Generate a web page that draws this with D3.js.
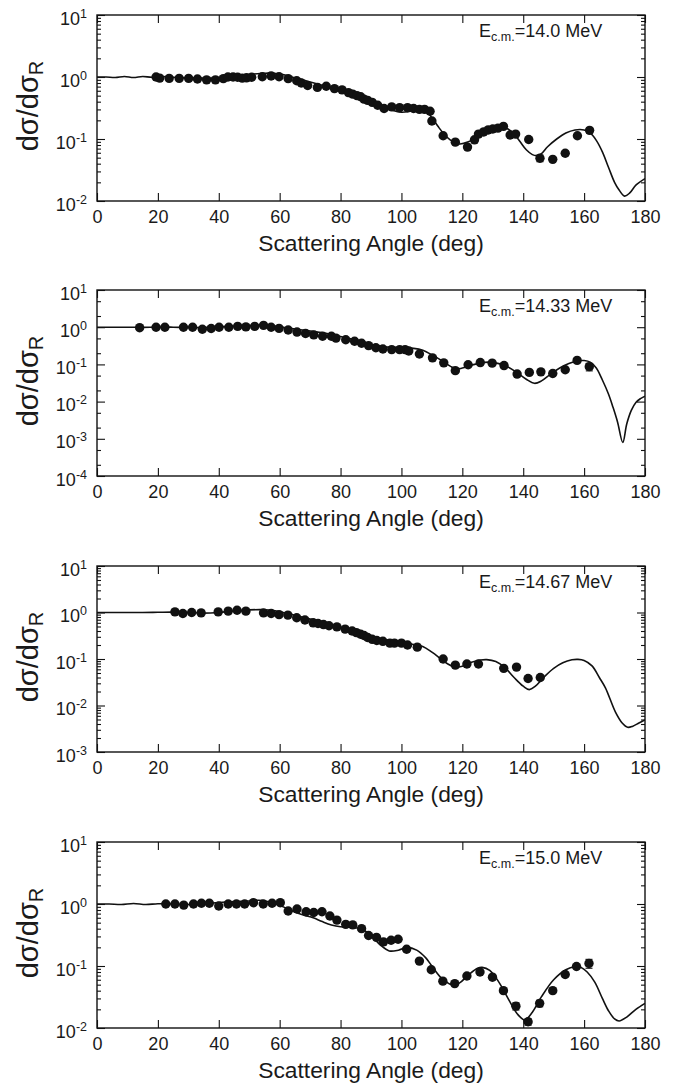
<!DOCTYPE html>
<html>
<head>
<meta charset="utf-8">
<script src="https://cdn.jsdelivr.net/npm/d3@7"></script>
<style>
  body { margin: 0; background: #fff; }
  svg { display: block; font-family: "Liberation Sans", Arial, sans-serif; }
  .tick line { stroke: #111; stroke-width: 1.1; }
  .tick text { fill: #1a1a1a; }
</style>
</head>
<body>
<div id="chart"></div>
<script>
// angle ticks (deg)
var angleTicks = d3.range(0, 181, 20);

// panel energies and log-axis ranges
var energies = ["14.0", "14.33", "14.67", "15.0"];
var yMinExp = [-2, -4, -3, -2];
var yMaxExp = [1, 1, 1, 1];
var minorSteps = [[2, 3, 4, 5, 6, 7, 8, 9], [2, 5], [2, 3, 4, 5, 6, 7, 8, 9], [2, 3, 4, 5, 6, 7, 8, 9]];

// calculated curves [angle, ratio]
var curve14_0 = [[0,1.0],[3,1.0],[6,0.98],[9,1.02],[12,0.98],[15,1.02],[18,0.99],[21,1.02],[25,0.99],[30,0.97],[35,0.96],[40,0.98],[45,1.04],[50,1.1],[55,1.15],[58,1.15],[61,1.1],[64,1.0],[67,0.92],[70,0.83],[75,0.71],[80,0.6],[85,0.5],[90,0.41],[94,0.33],[97,0.29],[100,0.27],[103,0.28],[106,0.3],[108,0.29],[110,0.22],[112,0.16],[114,0.12],[116,0.097],[119,0.083],[122,0.09],[125,0.11],[128,0.135],[131,0.152],[133,0.158],[135,0.145],[137,0.12],[139,0.09],[141,0.067],[143,0.056],[144.5,0.054],[146,0.058],[148,0.075],[151,0.1],[154,0.125],[157,0.14],[160,0.14],[162,0.125],[164,0.095],[166,0.062],[168,0.035],[170,0.02],[171.5,0.015],[173.3,0.012],[175,0.0135],[177,0.018],[180,0.023]];
var curve14_33 = [[0,1.0],[5,1.0],[10,1.0],[15,0.99],[20,1.01],[25,1.0],[30,0.98],[35,0.98],[40,1.02],[45,1.06],[50,1.1],[54,1.12],[57,1.1],[60,1.02],[64,0.92],[68,0.83],[72,0.75],[76,0.67],[80,0.56],[84,0.47],[88,0.38],[92,0.32],[96,0.29],[100,0.28],[104,0.27],[107,0.24],[110,0.18],[113,0.13],[116,0.09],[118,0.075],[120,0.08],[123,0.095],[126,0.11],[129,0.115],[132,0.105],[135,0.085],[138,0.06],[141,0.04],[143.7,0.031],[146,0.036],[149,0.055],[152,0.08],[155,0.105],[158,0.125],[160,0.127],[162,0.115],[164,0.08],[166,0.038],[168,0.016],[169.5,0.007],[171,0.0028],[172.7,0.0008],[174,0.0025],[175.5,0.0058],[177,0.0095],[178.5,0.012],[180,0.014]];
var curve14_67 = [[0,1.0],[5,1.0],[10,1.0],[15,1.0],[20,1.01],[25,1.02],[30,1.0],[35,0.97],[40,1.0],[45,1.08],[50,1.14],[55,1.15],[58,1.1],[61,1.0],[65,0.87],[70,0.72],[75,0.59],[80,0.48],[85,0.39],[90,0.31],[95,0.26],[100,0.225],[104,0.205],[107,0.185],[110,0.14],[113,0.1],[115,0.08],[117.5,0.067],[120,0.07],[123,0.085],[126,0.095],[128,0.097],[131,0.088],[134,0.065],[137,0.04],[140,0.026],[142,0.022],[144,0.026],[147,0.042],[150,0.063],[153,0.083],[156,0.096],[158,0.098],[160,0.093],[162.6,0.071],[165,0.04],[167,0.024],[170.3,0.0072],[172.5,0.0042],[174.3,0.0034],[176,0.0036],[178,0.0042],[180,0.0049]];
var curve15_0 = [[0,1.0],[4,1.0],[8,0.98],[12,1.02],[16,0.98],[20,1.01],[25,1.0],[30,0.98],[35,1.0],[40,1.06],[45,1.1],[50,1.12],[53,1.15],[56,1.1],[59,1.0],[62,0.86],[65,0.74],[68,0.66],[71,0.6],[74,0.52],[77,0.46],[80,0.43],[84,0.42],[87,0.39],[90,0.31],[93,0.22],[96,0.175],[99,0.18],[102,0.2],[105,0.18],[108,0.135],[110,0.1],[113,0.065],[116.5,0.05],[119,0.053],[122,0.072],[125,0.092],[126.5,0.095],[129,0.085],[132,0.055],[135,0.03],[138,0.017],[140.5,0.0135],[143,0.018],[146,0.032],[150,0.06],[154,0.087],[157,0.097],[159,0.095],[161,0.08],[163.5,0.055],[166,0.03],[168,0.019],[170,0.014],[171.5,0.013],[174,0.015],[177,0.02],[180,0.025]];

// measured points [angle, ratio, error]
var data14_0 = [[19.4,1.0],[20.6,0.96],[23.7,0.95],[27,0.95],[30.1,0.95],[33,0.93],[36,0.9],[38.9,0.9],[41.5,0.94],[43,1.0],[44.7,1.0],[46.2,0.99],[47.7,0.96],[49.1,0.97],[50.8,0.99],[54.3,1.01],[57.2,1.04],[59.8,1.01],[62.8,0.94],[65.6,0.87],[67.1,0.8],[69.2,0.73],[72.4,0.68],[75.3,0.71],[78,0.65],[80.5,0.62],[82.6,0.56],[84,0.53],[85.4,0.5],[86.6,0.48],[87.7,0.44],[88.9,0.42],[90.4,0.39],[92.2,0.35],[94.3,0.31],[96.8,0.33],[99.4,0.32],[102,0.32],[104,0.31],[105.9,0.3],[107.6,0.3],[109.4,0.28],[110,0.195],[113.7,0.113],[117.7,0.089],[121.7,0.074],[124,0.097],[125.3,0.12],[127,0.13],[128.5,0.14],[130,0.145],[131.7,0.15],[133.5,0.16],[135.7,0.116],[137.5,0.12],[141.8,0.098],[145.5,0.049,0.006],[149.7,0.047],[153.8,0.059,0.005],[157.8,0.113],[161.8,0.138,0.013]];
var data14_33 = [[14,0.97],[19.4,1.0],[22.3,1.0],[28.4,1.0],[31.4,1.0],[34.6,0.88],[37.5,0.92],[40.1,1.0],[43.3,1.0],[46.2,1.05],[48.9,1.02],[51.8,1.05],[54.7,1.12],[57.2,1.0],[59.8,0.93],[62.8,0.84],[65.7,0.74],[68.5,0.68],[71.2,0.62],[74.1,0.57],[77,0.57],[78.5,0.51],[81.7,0.46],[84.6,0.42],[86.9,0.37],[89.2,0.32],[91.6,0.28],[93.9,0.26],[96.8,0.25],[99.4,0.25],[101.2,0.25],[102.4,0.23],[105.9,0.19],[110.2,0.15],[113.9,0.11],[117.7,0.068],[121.9,0.098],[125.9,0.112],[129.8,0.108],[133.7,0.093],[138,0.055],[142,0.061],[145.8,0.063],[149.7,0.057],[153.8,0.072],[157.7,0.128],[161.7,0.087,0.02]];
var data14_67 = [[25.6,1.03],[28.2,0.95],[31.1,1.0],[34.2,0.98],[39.8,1.03],[43.1,1.07],[46,1.12],[48.9,1.07],[54.7,0.98],[57.2,0.95],[59.8,0.9],[62.7,0.88],[65.6,0.77],[68.3,0.69],[71,0.6],[72.6,0.58],[74.4,0.55],[76.2,0.52],[78.8,0.49],[81.5,0.44],[83.8,0.4],[85.2,0.37],[86.6,0.34],[87.7,0.32],[88.9,0.29],[90.4,0.265],[91.9,0.25],[93.9,0.24],[96.2,0.22],[97.7,0.22],[100,0.22],[102,0.2],[105.2,0.18],[113.7,0.1],[117.7,0.074],[121.5,0.078],[125.3,0.078],[133.6,0.063],[137.8,0.067],[141.6,0.038],[145.6,0.04]];
var data15_0 = [[22.6,1.0],[25.6,1.0],[28.5,0.96],[31.7,1.0],[34.3,1.03],[36.9,1.03],[40,0.93],[43.1,1.0],[45.8,1.0],[48.5,1.0],[51.4,1.05],[54.6,1.0],[57.5,1.03],[60.2,1.05],[62.8,0.77],[65.7,0.83],[68.7,0.75],[71.2,0.73],[73.9,0.75],[76.5,0.64],[78.8,0.55],[81.7,0.47],[84,0.46],[86.9,0.4],[89.2,0.31],[91.8,0.29],[94.1,0.245],[96.6,0.26],[98.9,0.27],[101.7,0.186],[105.9,0.12],[109.8,0.087],[113.6,0.057],[117.5,0.052],[121.5,0.069],[125.8,0.08],[129.9,0.066],[133.5,0.04],[137.6,0.0225,0.003],[141.6,0.0126,0.0015],[145.4,0.025,0.003],[149.7,0.04],[153.8,0.073],[157.5,0.098],[161.6,0.11,0.018]];

var curves = [curve14_0, curve14_33, curve14_67, curve15_0];
var points = [data14_0, data14_33, data14_67, data15_0];

var width = 678, height = 1091;
var left = 97, plotW = 548, plotH = 186;
var panelTop = [15, 290, 566, 842];
var ink = "#111";

var svg = d3.select("#chart").append("svg")
    .attr("width", width)
    .attr("height", height);

var x = d3.scaleLinear().domain([0, 180]).range([left, left + plotW]);

energies.forEach(function (energy, i) {
    var top = panelTop[i];
    var y = d3.scaleLog()
        .domain([Math.pow(10, yMinExp[i]), Math.pow(10, yMaxExp[i])])
        .range([top + plotH, top]);
    var majors = d3.range(yMinExp[i], yMaxExp[i] + 1).map(function (e) { return Math.pow(10, e); });
    var minors = [];
    d3.range(yMinExp[i], yMaxExp[i]).forEach(function (e) {
        minorSteps[i].forEach(function (m) { minors.push(m * Math.pow(10, e)); });
    });

    var g = svg.append("g");

    // clip for curve
    g.append("clipPath").attr("id", "clip" + i)
        .append("rect").attr("x", left).attr("y", top).attr("width", plotW).attr("height", plotH);

    // x axes (bottom labelled, top ticks only)
    g.append("g")
        .attr("transform", "translate(0," + (top + plotH) + ")")
        .call(d3.axisBottom(x).tickValues(angleTicks).tickSizeInner(-8).tickSizeOuter(0).tickPadding(9))
        .call(function (s) { s.select(".domain").remove(); })
        .selectAll("text").attr("font-size", 18);
    g.append("g")
        .attr("transform", "translate(0," + top + ")")
        .call(d3.axisTop(x).tickValues(angleTicks).tickSizeInner(-8).tickSizeOuter(0).tickFormat(""))
        .call(function (s) { s.select(".domain").remove(); });

    // y axes: majors labelled as powers of ten
    var yl = g.append("g")
        .attr("transform", "translate(" + left + ",0)")
        .call(d3.axisLeft(y).tickValues(majors).tickSizeInner(-8).tickSizeOuter(0).tickPadding(10))
        .call(function (s) { s.select(".domain").remove(); });
    yl.selectAll("text")
        .attr("font-size", 18)
        .attr("dy", "0.5em")
        .text("10")
        .append("tspan")
        .attr("dy", -7)
        .attr("font-size", 12.5)
        .text(function (d) { return Math.round(Math.log10(d)); });
    g.append("g")
        .attr("transform", "translate(" + left + ",0)")
        .call(d3.axisLeft(y).tickValues(minors).tickSizeInner(-4).tickSizeOuter(0).tickFormat(""))
        .call(function (s) { s.select(".domain").remove(); });
    g.append("g")
        .attr("transform", "translate(" + (left + plotW) + ",0)")
        .call(d3.axisRight(y).tickValues(majors).tickSizeInner(-8).tickSizeOuter(0).tickFormat(""))
        .call(function (s) { s.select(".domain").remove(); });
    g.append("g")
        .attr("transform", "translate(" + (left + plotW) + ",0)")
        .call(d3.axisRight(y).tickValues(minors).tickSizeInner(-4).tickSizeOuter(0).tickFormat(""))
        .call(function (s) { s.select(".domain").remove(); });

    // frame
    g.append("rect")
        .attr("x", left).attr("y", top)
        .attr("width", plotW).attr("height", plotH)
        .attr("fill", "none").attr("stroke", ink).attr("stroke-width", 1.4);

    // calculation
    var line = d3.line()
        .x(function (d) { return x(d[0]); })
        .y(function (d) { return y(d[1]); })
        .curve(d3.curveCatmullRom.alpha(0.5));
    g.append("path")
        .datum(curves[i])
        .attr("clip-path", "url(#clip" + i + ")")
        .attr("d", line)
        .attr("fill", "none")
        .attr("stroke", ink)
        .attr("stroke-width", 1.6);

    // error bars
    var withErr = points[i].filter(function (d) { return d[2]; });
    var eb = g.selectAll(".err").data(withErr).enter().append("g").attr("class", "err")
        .attr("stroke", ink).attr("stroke-width", 1.1);
    eb.append("line")
        .attr("x1", function (d) { return x(d[0]); }).attr("x2", function (d) { return x(d[0]); })
        .attr("y1", function (d) { return y(d[1] - d[2]); }).attr("y2", function (d) { return y(d[1] + d[2]); });
    [-1, 1].forEach(function (sgn) {
        eb.append("line")
            .attr("x1", function (d) { return x(d[0]) - 3.5; }).attr("x2", function (d) { return x(d[0]) + 3.5; })
            .attr("y1", function (d) { return y(d[1] + sgn * d[2]); }).attr("y2", function (d) { return y(d[1] + sgn * d[2]); });
    });

    // data points
    g.selectAll(".pt").data(points[i]).enter().append("circle")
        .attr("class", "pt")
        .attr("cx", function (d) { return x(d[0]); })
        .attr("cy", function (d) { return y(d[1]); })
        .attr("r", 4.7)
        .attr("fill", ink);

    // energy label
    var lab = g.append("text")
        .attr("x", 479).attr("y", top + 22)
        .attr("font-size", 18).attr("fill", "#1a1a1a");
    lab.append("tspan").text("E");
    lab.append("tspan").attr("font-size", 12.5).attr("dy", 4).text("c.m.");
    lab.append("tspan").attr("dy", -4).text("=" + energy + " MeV");

    // axis titles
    g.append("text")
        .attr("x", left + plotW / 2).attr("y", top + plotH + 50)
        .attr("text-anchor", "middle")
        .attr("font-size", 22.8).attr("fill", "#1a1a1a")
        .text("Scattering Angle (deg)");
    var yt = g.append("text")
        .attr("transform", "translate(38," + (top + plotH / 2 - 2) + ") rotate(-90)")
        .attr("text-anchor", "middle")
        .attr("font-size", 29).attr("fill", "#1a1a1a");
    yt.append("tspan").text("dσ/dσ");
    yt.append("tspan").attr("font-size", 20).attr("dy", 5).text("R");
});
</script>
</body>
</html>
